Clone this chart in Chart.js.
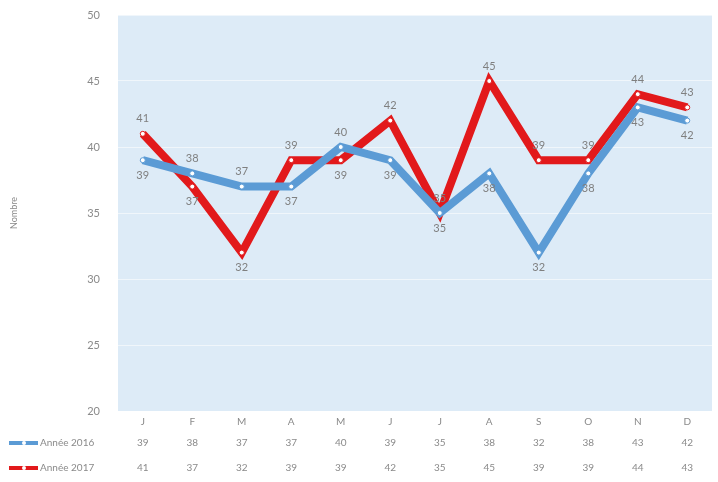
<!DOCTYPE html>
<html><head><meta charset="utf-8">
<script src="https://cdn.jsdelivr.net/npm/chart.js@4/dist/chart.umd.min.js"></script>
<style>html,body{margin:0;padding:0;background:#fff}#w{width:718px;height:482px}</style>
</head><body><div id="w"><canvas id="c"></canvas></div>
<script>
const categories = ['J','F','M','A','M','J','J','A','S','O','N','D'];
const seriesNames = ['Année 2016','Année 2017'];
const values2016 = [39,38,37,37,40,39,35,38,32,38,43,42];
const values2017 = [41,37,32,39,39,42,35,45,39,39,44,43];
const yTicks = [20,25,30,35,40,45,50];

const colors = ['#5b9bd5','#e2191b'];
const textGray = '#8a8a8a';
const FONT = 'Lato, "Open Sans", sans-serif';

const bgPlugin = {
  id:'bg',
  beforeDraw(chart){
    const {ctx, chartArea:a} = chart;
    ctx.save(); ctx.fillStyle='#ddebf7';
    ctx.fillRect(a.left,a.top,a.right-a.left,a.bottom-a.top);
    ctx.restore();
  }
};
const labelPlugin = {
  id:'labels',
  afterDatasetsDraw(chart){
    const ctx = chart.ctx;
    ctx.save();
    ctx.font = '11px '+FONT; ctx.fillStyle = '#7f7f7f';
    ctx.textAlign='center'; ctx.textBaseline='middle';
    const d0 = chart.data.datasets[0].data, d1 = chart.data.datasets[1].data;
    chart.data.datasets.forEach((ds,i)=>{
      const meta = chart.getDatasetMeta(i);
      meta.data.forEach((pt,j)=>{
        const other = i===0 ? d1[j] : d0[j];
        const above = ds.data[j] >= other ? (i===0 || ds.data[j]>other) : false;
        const dy = above ? -15 : 15;
        ctx.fillText(String(ds.data[j]), pt.x, pt.y+dy);
      });
    });
    ctx.restore();
  },
  afterDraw(chart){
    const ctx = chart.ctx, xs = chart.scales.x, a = chart.chartArea;
    ctx.save();
    ctx.font = '10px '+FONT; ctx.fillStyle = textGray; ctx.textBaseline='middle';
    chart.data.datasets.forEach((ds,i)=>{
      const y = a.bottom + 32 + i*25;
      ctx.strokeStyle = ds.borderColor; ctx.lineWidth = 4;
      ctx.beginPath(); ctx.moveTo(9,y); ctx.lineTo(38,y); ctx.stroke();
      ctx.fillStyle='#fff'; ctx.beginPath(); ctx.arc(24,y,2,0,Math.PI*2); ctx.fill();
      ctx.fillStyle = textGray; ctx.textAlign='left';
      ctx.fillText(ds.label, 40, y);
      ctx.textAlign='center';
      ds.data.forEach((v,j)=>{ ctx.fillText(String(v), xs.getPixelForValue(j), y); });
    });
    ctx.restore();
  }
};

new Chart(document.getElementById('c'), {
  type:'line',
  data:{
    labels: categories,
    datasets:[
      {label:seriesNames[0], data:values2016, borderColor:colors[0], backgroundColor:'#fff',
       borderWidth:8, pointRadius:2.5, pointBorderWidth:1, pointBackgroundColor:'#fff', pointBorderColor:colors[0], tension:0},
      {label:seriesNames[1], data:values2017, borderColor:colors[1], backgroundColor:'#fff',
       borderWidth:8, pointRadius:2.5, pointBorderWidth:1, pointBackgroundColor:'#fff', pointBorderColor:colors[1], tension:0}
    ]
  },
  options:{
    responsive:true, maintainAspectRatio:false, animation:false,
    layout:{padding:{left:9, right:6, top:15, bottom:49}, autoPadding:false},
    plugins:{legend:{display:false}, tooltip:{enabled:false}},
    scales:{
      x:{offset:true, grid:{display:false, drawTicks:false}, border:{display:false},
         ticks:{color:textGray, font:{family:FONT,size:10}, padding:5}},
      y:{min:20, max:50, afterBuildTicks(s){ s.ticks = yTicks.map(v=>({value:v})); },
         afterFit(s){ s.width = 109; s.paddingTop = 0; s.paddingBottom = 0; },
         grid:{color:'rgba(255,255,255,0.55)', drawTicks:false}, border:{display:false},
         ticks:{color:textGray, font:{family:FONT,size:11}, padding:18},
         title:{display:true, text:'Nombre', color:textGray, font:{family:FONT,size:9}, padding:{top:0,bottom:0}}}
    }
  },
  plugins:[bgPlugin, labelPlugin]
});
</script></body></html>
